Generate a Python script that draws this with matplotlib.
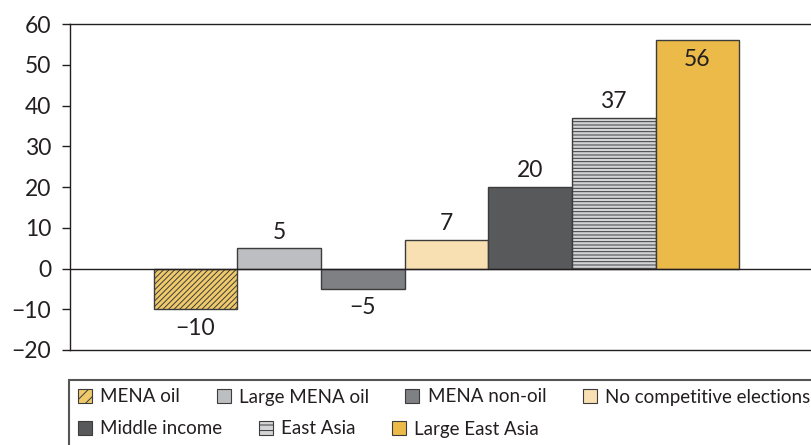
import matplotlib
matplotlib.use('Agg')
import matplotlib.pyplot as plt
from matplotlib.patches import Patch, Rectangle

plt.rcParams['font.family'] = ['Lato', 'DejaVu Sans']
plt.rcParams['hatch.linewidth'] = 0.7
plt.rcParams['axes.unicode_minus'] = True

categories = ['MENA oil', 'Large MENA oil', 'MENA non-oil', 'No competitive elections',
              'Middle income', 'East Asia', 'Large East Asia']
values = [-10, 5, -5, 7, 20, 37, 56]
colors = ['#F0CA6A', '#BDBEC1', '#7F8083', '#F8E0B2', '#58595B', '#D3D4D6', '#ECBA48']
hatches = ['//////', None, None, None, None, '-----', None]
edge = '#3C3C3C'

fig = plt.figure(figsize=(8.12, 4.45), dpi=100)
ax = fig.add_axes([0.0862, 0.2135, 0.9138, 0.7325])

handles = []
for i, (cat, v, c, h) in enumerate(zip(categories, values, colors, hatches)):
    ax.bar(i, v, width=1.0, color=c, edgecolor=edge, linewidth=1.0, hatch=h, zorder=2)
    handles.append(Patch(facecolor=c, edgecolor=edge, linewidth=0.8,
                         hatch=('///' if h and '/' in h else ('---' if h else None)), label=cat))
    if v < 0:
        ax.annotate(f'\u2212{abs(v)}', (i, v), xytext=(0, -6), textcoords='offset points',
                    ha='center', va='top', fontsize=16.5, color='#231F20')
    elif v > 50:
        ax.annotate(f'{v}', (i, v), xytext=(0, -6), textcoords='offset points',
                    ha='center', va='top', fontsize=16.5, color='#231F20')
    else:
        ax.annotate(f'{v}', (i, v), xytext=(0, 4), textcoords='offset points',
                    ha='center', va='bottom', fontsize=16.5, color='#231F20')

ax.axhline(0, color='#231F20', linewidth=1.0, zorder=3)
ax.set_xlim(-1.5, 7.37)
ax.set_ylim(-20, 60)
ax.set_yticks(range(-20, 61, 10))
ax.set_yticklabels([f'\u2212{abs(t)}' if t < 0 else str(t) for t in range(-20, 61, 10)])
ax.set_xticks([])
ax.tick_params(axis='y', length=5.5, width=1, labelsize=16.5, colors='#231F20', pad=8)
for s in ['left', 'top', 'bottom']:
    ax.spines[s].set_color('#231F20')
    ax.spines[s].set_linewidth(1.0)
ax.spines['right'].set_visible(False)

# legend frame
fig.patches.append(Rectangle((69 / 812, -0.05), 1.0, 1 - 380 / 445 + 0.05,
                             transform=fig.transFigure, fill=False,
                             edgecolor='#555555', linewidth=1.5))

leg_kw = dict(frameon=False, fontsize=13.5, handlelength=0.75, handleheight=0.75,
              handletextpad=0.43, columnspacing=1.95, borderaxespad=0, borderpad=0,
              labelcolor='#231F20')
leg1 = fig.legend(handles=handles[:4], ncol=4, loc='center left',
                  bbox_to_anchor=(78 / 812, 1 - 397 / 445), **leg_kw)
leg2 = fig.legend(handles=handles[4:], ncol=3, loc='center left',
                  bbox_to_anchor=(78 / 812, 1 - 429 / 445), **leg_kw)

fig.savefig('out.png', dpi=100)
